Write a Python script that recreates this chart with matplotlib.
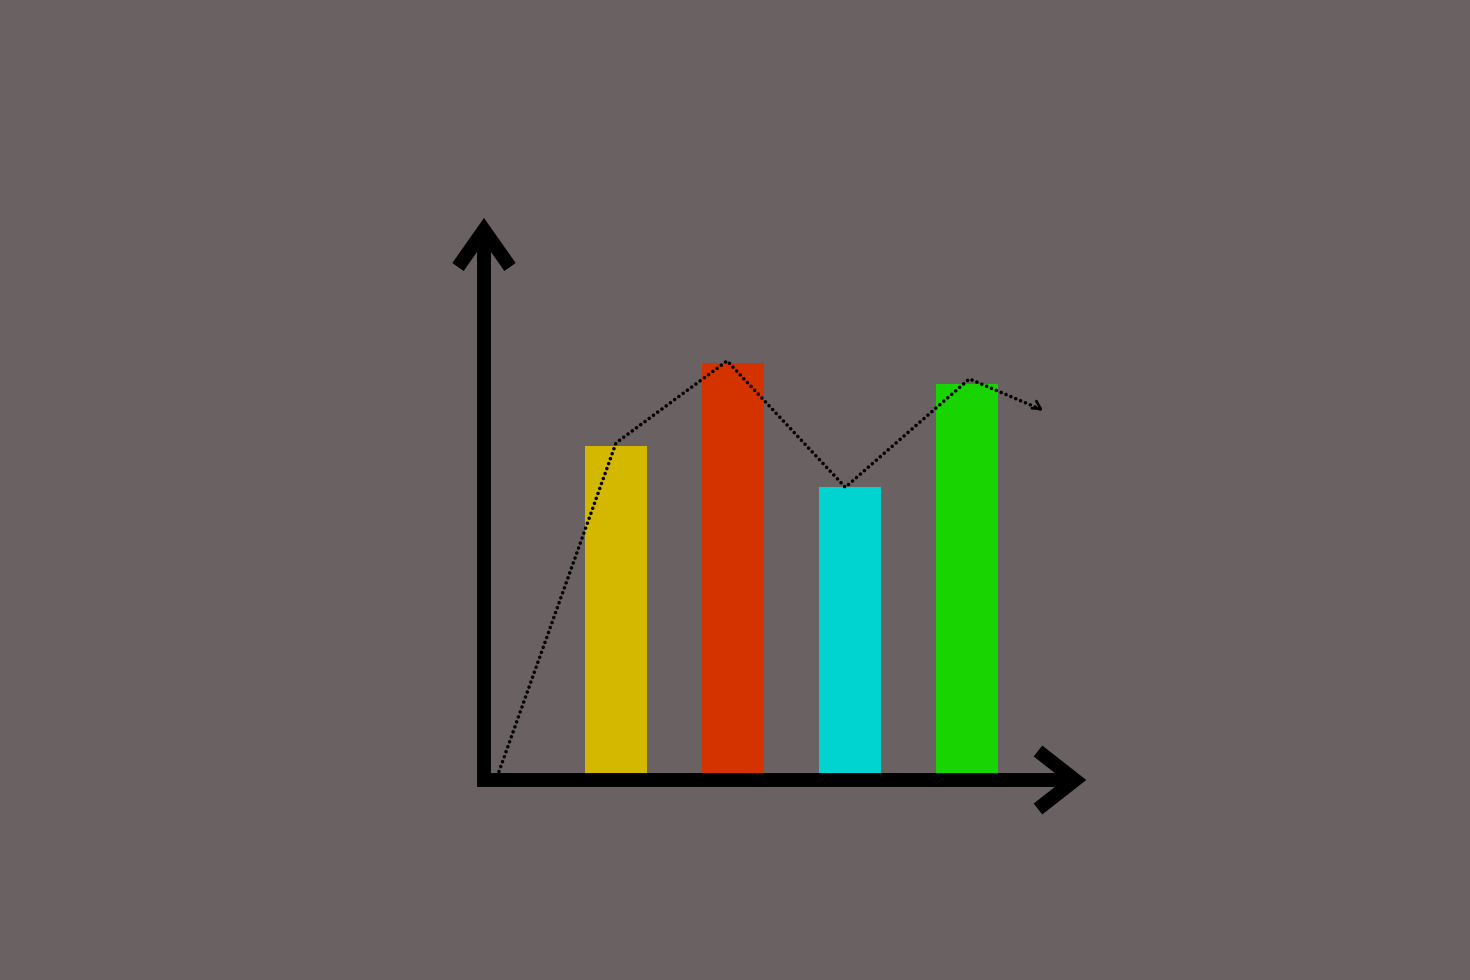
import matplotlib
matplotlib.use("Agg")
import matplotlib.pyplot as plt

# bar data (arbitrary units, y axis runs 0..~98)
categories = [1, 2, 3, 4]
values = [59.5, 74.2, 52.1, 70.5]
colors = ['#d4b800', '#d43300', '#00d4d0', '#18d400']

# dotted trend line over the bars, ends with a small arrow
trend_x = [0.0, 1.0, 1.95, 2.96, 4.02, 4.65]
trend_y = [1.5, 60.0, 74.6, 52.1, 71.4, 65.8]

bg = '#6a6262'

fig = plt.figure(figsize=(14.7, 9.8), dpi=100)
fig.patch.set_facecolor(bg)

# axes frame in pixels: left 484, right 1075, bottom 780, top 230
W, H = 1075 - 484, 780 - 230
ax = fig.add_axes([484 / 1470, 200 / 980, W / 1470, H / 980])
ax.set_facecolor(bg)
ax.set_xlim(-0.128, 4.923)
ax.set_ylim(0, 97.9)

ax.bar(categories, values, width=0.53, color=colors, zorder=2)

ax.plot(trend_x, trend_y, color='black', lw=2.6, ls=(0, (0.01, 1.45)),
        dash_capstyle='round', zorder=3)
ax.annotate('', xy=(trend_x[-1], trend_y[-1]),
            xytext=(trend_x[-1] - 0.03, trend_y[-1] + 0.4),
            arrowprops=dict(arrowstyle='->,head_length=0.55,head_width=0.3',
                            color='black', lw=2.0, shrinkA=0, shrinkB=0), zorder=3)

# axes drawn as thick arrows
axis_kw = dict(transform=ax.transAxes, color='black', lw=10, clip_on=False,
               solid_joinstyle='miter', solid_capstyle='butt', zorder=4)
ax.plot([0, 0, 1], [1, 0, 0], **axis_kw)
ax.plot([-26 / W, 0, 26 / W], [1 - 37 / H, 1, 1 - 37 / H], **axis_kw)
ax.plot([1 - 37 / W, 1, 1 - 37 / W], [29 / H, 0, -29 / H], **axis_kw)

for s in ax.spines.values():
    s.set_visible(False)
ax.set_xticks([])
ax.set_yticks([])

fig.savefig('out.png', dpi=100, facecolor=bg)
